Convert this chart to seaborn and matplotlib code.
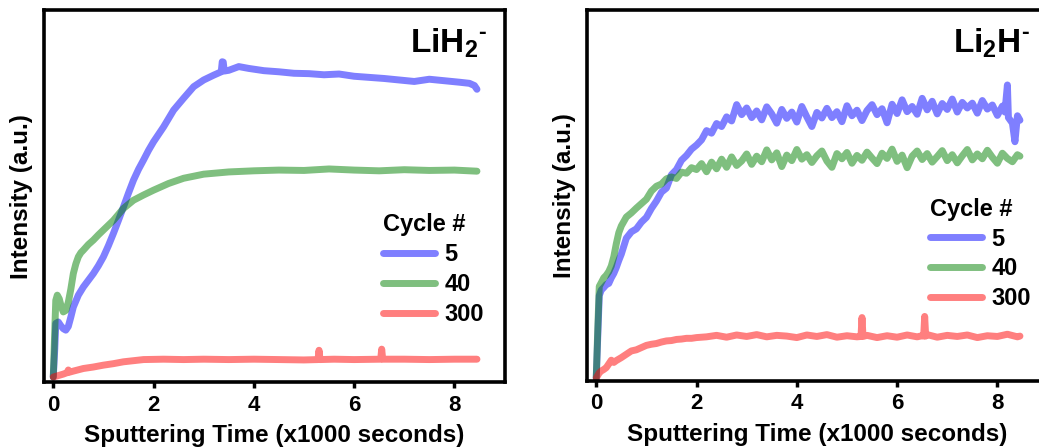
import numpy as np
import pandas as pd
import matplotlib
matplotlib.use("Agg")
import matplotlib.pyplot as plt
import seaborn as sns

CYCLES = ["5", "40", "300"]
PALETTE = {"5": "blue", "40": "green", "300": "red"}

# ---- LiH2- panel (left), intensity in arbitrary units (0-100) ----
lih2_t_5 = [0, 0.03, 0.05, 0.1, 0.15, 0.2, 0.25, 0.3, 0.35, 0.4,
            0.5, 0.6, 0.7, 0.8, 0.9, 1.0, 1.1, 1.2, 1.3, 1.4, 1.5, 1.6, 1.7, 1.8, 1.9, 2.0,
            2.2, 2.4, 2.6, 2.8, 3.0, 3.2, 3.35, 3.37, 3.39, 3.41, 3.5, 3.7, 3.9,
            4.2, 4.5, 4.8, 5.1, 5.4, 5.7, 6.0, 6.3, 6.6, 6.9, 7.2, 7.5, 7.8, 8.1,
            8.3, 8.4, 8.45]
lih2_y_5 = [1.4, 9, 15.8, 16.2, 15.2, 14.4, 14.0, 15.0, 17.5, 20.2,
            23.4, 25.6, 27.4, 29.2, 31.3, 33.7, 36.7, 40.0, 43.5, 47.1, 50.8, 54.3, 57.2, 59.7, 62.3, 64.6,
            68.6, 73.1, 76.3, 79.4, 81.2, 82.5, 83.4, 86.1, 86.0, 83.6, 83.8, 84.8, 84.3,
            83.7, 83.4, 83.0, 82.9, 82.6, 82.8, 82.2, 81.9, 81.6, 81.2, 80.8, 81.4, 81.0, 80.6,
            80.3, 79.7, 78.7]

lih2_t_40 = [0, 0.03, 0.05, 0.08, 0.12, 0.16, 0.2, 0.25, 0.3, 0.35,
             0.4, 0.45, 0.5, 0.55, 0.6, 0.7, 0.8, 0.9, 1.0,
             1.2, 1.4, 1.6, 1.8, 2.0,
             2.3, 2.6, 3.0, 3.5, 4.0, 4.5, 5.0, 5.5, 6.0, 6.5, 7.0, 7.5, 8.0, 8.45]
lih2_y_40 = [1.4, 14, 22.0, 23.4, 22.4, 20.3, 18.9, 19.3, 21.5, 25.0,
             29.2, 31.8, 33.7, 34.8, 35.5, 37.0, 38.2, 39.6, 40.9,
             43.5, 46.7, 48.9, 50.3, 51.6,
             53.4, 54.8, 55.9, 56.5, 56.8, 57.0, 56.9, 57.3, 57.0, 56.8, 57.1, 56.9, 57.0, 56.7]

lih2_t_300 = [0, 0.2, 0.28, 0.3, 0.32, 0.4, 0.6, 0.8, 1.0, 1.2,
              1.4, 1.6, 1.8, 2.2, 2.6, 3.0, 3.5, 4.0, 4.5, 5.0,
              5.28, 5.3, 5.32, 5.6, 6.0, 6.53, 6.55, 6.57, 7.0, 7.5,
              8.0, 8.45]
lih2_y_300 = [1.4, 2.2, 2.6, 3.3, 2.7, 3.0, 3.7, 4.1, 4.6, 5.0,
              5.5, 5.8, 6.1, 6.2, 6.1, 6.2, 6.1, 6.2, 6.1, 6.0,
              6.1, 8.6, 6.1, 6.2, 6.1, 6.2, 8.9, 6.2, 6.2, 6.1,
              6.2, 6.2]

# ---- Li2H- panel (right) ----
li2h_t_head = [0, 0.03, 0.06, 0.1, 0.15, 0.2, 0.25, 0.3, 0.35, 0.4, 0.45, 0.5,
               0.6, 0.7, 0.8, 0.9, 1.0, 1.1, 1.2, 1.3, 1.4, 1.5, 1.6, 1.7, 1.8, 1.9, 2.0]

li2h_t_5 = li2h_t_head + list(np.round(np.arange(2.1, 8.15, 0.1), 2)) + \
    [8.15, 8.2, 8.22, 8.3, 8.35, 8.4, 8.45]
li2h_y_5 = [0.8, 12, 23, 24.5, 25.2, 26.0, 26.3, 27.8, 29.0, 30.6, 32.5, 34.2,
            38.5, 40.2, 41.0, 42.8, 44.1, 46.5, 48.5, 50.9, 52.0, 55.6, 57.0, 59.5, 60.8, 62.5, 63.6,
            65.0, 67.5, 66.8, 69.4, 68.6, 71.2, 70.1, 74.5, 71.8,
            73.6, 71.0, 72.8, 70.4, 73.9, 72.0, 69.5, 73.2, 70.8, 72.5,
            69.8, 74.0, 71.2, 68.6, 72.4, 70.9, 73.5, 71.0, 72.6, 69.9,
            74.2, 71.5, 73.0, 70.2, 72.9, 74.5, 71.8, 73.4, 69.6, 74.6,
            72.1, 75.8, 72.6, 74.0, 71.9, 76.2, 73.1, 75.4, 72.0, 74.8,
            73.2, 76.0, 72.5, 75.1, 73.6, 74.9, 72.2, 75.6, 73.3, 74.4,
            71.6, 74.1,
            72.5, 79.8, 71.0, 69.5, 64.5, 71.5, 70.3]

li2h_t_40 = li2h_t_head + list(np.round(np.arange(2.1, 8.45, 0.1), 2)) + [8.45]
li2h_y_40 = [0.8, 14, 25.5, 26.5, 27.8, 28.5, 29.5, 31.0, 33.5, 37.0, 40.0, 41.8,
             44.2, 45.3, 46.6, 47.8, 49.0, 51.2, 52.5, 53.1, 54.5, 55.0, 54.6, 56.3, 56.0, 57.5, 57.0,
             58.6, 56.4, 59.0, 57.2, 59.8, 57.6, 60.4, 58.1, 59.3,
             61.2, 58.4, 60.6, 59.1, 62.3, 59.6, 61.5, 57.8, 60.9, 59.4,
             62.4, 59.8, 61.0, 58.9, 60.7, 62.0, 59.3, 57.6, 61.3, 59.9,
             61.6, 58.7, 60.8, 59.5, 61.7, 60.1, 58.6, 61.4, 60.0, 62.5,
             59.2, 60.9, 57.5, 60.6, 62.0, 59.7, 61.3, 59.0, 60.5, 62.1,
             59.4, 61.0, 58.8, 60.7, 62.4, 59.6, 61.2, 59.9, 62.2, 60.3,
             58.7, 61.4, 60.0, 59.1, 61.0,
             60.6]

li2h_t_300 = li2h_t_head + [2.2, 2.4, 2.6, 2.8, 3.0, 3.2, 3.4, 3.6, 3.8, 4.0,
                            4.2, 4.4, 4.6, 4.8, 5.0, 5.2, 5.28, 5.3, 5.32, 5.4,
                            5.6, 5.8, 6.0, 6.2, 6.4, 6.5, 6.53, 6.55, 6.57, 6.6,
                            6.8, 7.0, 7.2, 7.4, 7.6, 7.8, 8.0, 8.2, 8.4, 8.45]
li2h_y_300 = [0.8, 1.5, 2.2, 2.7, 3.1, 3.6, 4.6, 5.6, 5.0, 5.5, 5.9, 6.3,
              7.2, 8.1, 8.4, 9.0, 9.6, 9.9, 10.1, 10.5, 10.8, 10.9, 11.2, 11.3, 11.5, 11.5, 11.7,
              11.9, 12.3, 11.8, 12.4, 12.0, 12.5, 11.9, 12.3, 12.1, 11.7,
              12.4, 12.0, 12.5, 11.8, 12.2, 11.9, 12.0, 17.1, 12.0, 12.3,
              11.7, 12.2, 11.8, 12.4, 11.9, 12.2, 12.1, 17.4, 12.1, 12.5,
              11.8, 12.3, 12.0, 12.4, 11.7, 12.2, 12.0, 12.6, 11.9, 12.1]

X_TICKS = [0, 2, 4, 6, 8]


def make_frame(series):
    parts = []
    for cycle, (t, y) in zip(CYCLES, series):
        parts.append(pd.DataFrame({"time": t, "intensity": y, "cycle": cycle}))
    return pd.concat(parts, ignore_index=True)


def draw_panel(ax, df, title, legend_anchor):
    sns.lineplot(data=df, x="time", y="intensity", hue="cycle", hue_order=CYCLES,
                 palette=PALETTE, estimator=None, sort=False, alpha=0.5,
                 linewidth=5, solid_capstyle="round", solid_joinstyle="round",
                 legend=False, ax=ax)
    ax.set_xlim(-0.19, 9.0)
    ax.set_ylim(0, 100)
    ax.set_xticks(X_TICKS)
    ax.set_yticks([])
    ax.tick_params(axis="x", direction="out", length=4, width=2.5, labelsize=16, pad=5,
                   colors="black")
    for side in ["top", "bottom", "left", "right"]:
        ax.spines[side].set_visible(True)
        ax.spines[side].set_linewidth(2.6)
        ax.spines[side].set_color("black")
    ax.set_xlabel("Sputtering Time (x1000 seconds)", fontsize=17.5, fontweight="bold",
                  labelpad=6, color="black")
    ax.set_ylabel("Intensity (a.u.)", fontsize=17.5, fontweight="bold", labelpad=8,
                  color="black")
    ax.text(0.963, 0.955, title, transform=ax.transAxes, ha="right", va="top",
            fontsize=24, fontweight="bold", color="black")
    leg = ax.legend(ax.get_lines(), CYCLES, title="Cycle #", loc="upper left",
                    bbox_to_anchor=legend_anchor, frameon=False, borderpad=0,
                    borderaxespad=0, handlelength=2.2, handletextpad=0.4,
                    labelspacing=0.29, alignment="left",
                    prop={"size": 17, "weight": "bold"},
                    title_fontproperties={"size": 17, "weight": "bold"})
    for txt in leg.get_texts() + [leg.get_title()]:
        txt.set_color("black")
    for h in leg.legend_handles:
        h.set_linewidth(5)
        h.set_solid_capstyle("round")


if __name__ == "__main__":
    sns.set_style("ticks")
    plt.rcParams["font.family"] = ["Liberation Sans", "DejaVu Sans"]
    plt.rcParams["font.weight"] = "bold"
    plt.rcParams["text.color"] = "black"
    plt.rcParams["mathtext.default"] = "regular"

    left_df = make_frame([(lih2_t_5, lih2_y_5), (lih2_t_40, lih2_y_40), (lih2_t_300, lih2_y_300)])
    right_df = make_frame([(li2h_t_5, li2h_y_5), (li2h_t_40, li2h_y_40), (li2h_t_300, li2h_y_300)])

    fig = plt.figure(figsize=(10.39, 4.48), dpi=100)
    ax1 = fig.add_axes([0.0421, 0.1467, 0.4435, 0.831])
    ax2 = fig.add_axes([0.5647, 0.1496, 0.4435, 0.828])

    draw_panel(ax1, left_df, "LiH$_2{}^{\u2010}$", (0.736, 0.454))
    draw_panel(ax2, right_df, "Li$_2$H$^{\u2010}$", (0.745, 0.494))

    fig.savefig("out.png", dpi=100)
